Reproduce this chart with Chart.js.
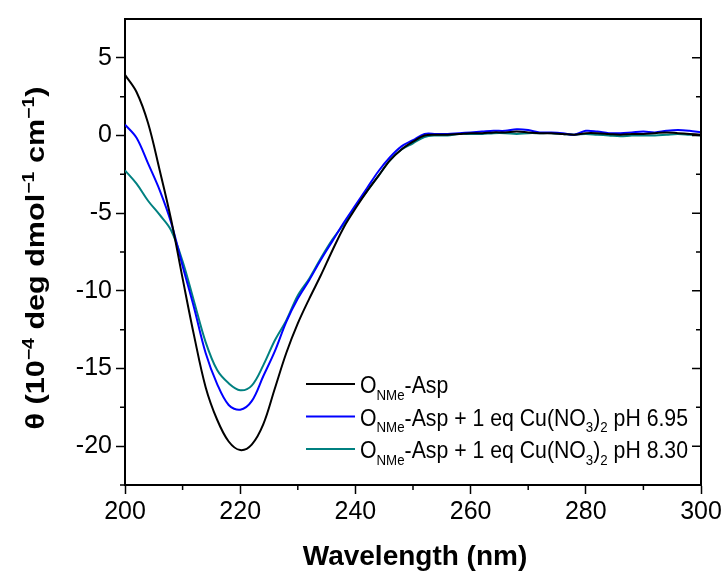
<!DOCTYPE html>
<html>
<head>
<meta charset="utf-8">
<script src="https://cdn.jsdelivr.net/npm/chart.js@4/dist/chart.umd.min.js"></script>
<style>
  html, body { margin: 0; padding: 0; background: #fff; }
  #chart { display: block; }
</style>
</head>
<body>
<canvas id="chart" width="726" height="572"></canvas>
<script>
// wavelength (nm)
const wavelengths = [200, 202, 204, 206, 208, 210, 212, 214, 216, 218,
    220, 222, 224, 226, 228, 230, 232, 234, 236, 238,
    240, 242, 244, 246, 248, 250, 252, 254, 256, 258,
    260, 262, 264, 266, 268, 270, 272, 274, 276, 278,
    280, 282, 284, 286, 288, 290, 292, 294, 296, 298, 300];

// theta (10^-4 deg dmol^-1 cm^-1)
const aspOnly = [3.9, 2.8, 0.8, -2.2, -5.4, -9.2, -12.9, -16.2, -18.3, -19.7,
    -20.25, -19.9, -18.6, -16.3, -14.0, -12.1, -10.5, -9.0, -7.4, -5.9,
    -4.7, -3.6, -2.6, -1.6, -0.9, -0.4, 0.0, 0.05, 0.05, 0.1,
    0.15, 0.15, 0.2, 0.2, 0.25, 0.2, 0.15, 0.15, 0.1, 0.05,
    0.15, 0.15, 0.1, 0.05, 0.1, 0.1, 0.15, 0.2, 0.15, 0.1, 0.05];
const aspCuPh695 = [0.7, -0.15, -1.8, -3.5, -5.6, -8.4, -11.1, -14.0, -16.0, -17.35,
    -17.65, -17.1, -15.5, -13.9, -12.0, -10.5, -9.3, -8.0, -6.8, -5.6,
    -4.5, -3.4, -2.3, -1.4, -0.7, -0.3, 0.1, 0.1, 0.1, 0.15,
    0.2, 0.25, 0.3, 0.3, 0.4, 0.35, 0.2, 0.2, 0.15, 0.05,
    0.3, 0.25, 0.15, 0.15, 0.2, 0.25, 0.2, 0.3, 0.35, 0.3, 0.2];
const aspCuPh830 = [-2.25, -3.1, -4.2, -5.1, -6.1, -8.1, -10.7, -13.3, -15.1, -15.95,
    -16.4, -16.1, -14.8, -13.2, -11.9, -10.3, -9.2, -7.9, -6.7, -5.7,
    -4.6, -3.6, -2.6, -1.6, -0.9, -0.5, -0.1, 0.0, 0.0, 0.1,
    0.1, 0.1, 0.15, 0.15, 0.1, 0.15, 0.15, 0.15, 0.1, 0.05,
    0.1, 0.05, 0.0, -0.05, 0.0, 0.0, 0.0, 0.05, 0.1, 0.05, 0.0];

// labels use _{..} for subscript and ^{..} for superscript
const seriesLabels = [
    'O_{NMe}-Asp',
    'O_{NMe}-Asp + 1 eq Cu(NO_{3})_{2} pH 6.95',
    'O_{NMe}-Asp + 1 eq Cu(NO_{3})_{2} pH 8.30'
];
const seriesColors = ['#000000', '#0000ff', '#008080'];

const xTicks = [200, 220, 240, 260, 280, 300];
const xMinorTicks = [210, 230, 250, 270, 290];
const yTicks = [-20, -15, -10, -5, 0, 5];
const yMinorTicks = [-22.5, -17.5, -12.5, -7.5, -2.5, 2.5];

const xTitle = 'Wavelength (nm)';
const yTitle = 'θ (10^{−4} deg dmol^{−1} cm^{−1})';

const FONT = "'Liberation Sans', Arial, Helvetica, sans-serif";

function parseRich(str) {
    const parts = [];
    const re = /([_^])\{([^}]*)\}|([^_^]+)/g;
    let m;
    while ((m = re.exec(str)) !== null) {
        if (m[3]) parts.push({ text: m[3], mode: 'normal' });
        else parts.push({ text: m[2], mode: m[1] === '_' ? 'sub' : 'sup' });
    }
    return parts;
}

function richFont(size, mode, bold) {
    const s = mode === 'normal' ? size : Math.round(size * 0.62);
    return (bold ? 'bold ' : '') + s + 'px ' + FONT;
}

function measureRich(ctx, str, size, bold) {
    let w = 0;
    parseRich(str).forEach(p => {
        ctx.font = richFont(size, p.mode, bold);
        w += ctx.measureText(p.text).width;
    });
    return w;
}

function drawRich(ctx, str, x, y, size, bold) {
    let cx = x;
    parseRich(str).forEach(p => {
        ctx.font = richFont(size, p.mode, bold);
        let dy = 0;
        if (p.mode === 'sub') dy = size * 0.28;
        if (p.mode === 'sup') dy = -size * 0.42;
        ctx.fillText(p.text, cx, y + dy);
        cx += ctx.measureText(p.text).width;
    });
}

const framePlugin = {
    id: 'frame',
    afterDraw(chart) {
        const ctx = chart.ctx;
        const area = chart.chartArea;
        const xs = chart.scales.x;
        const ys = chart.scales.y;
        ctx.save();
        ctx.strokeStyle = '#000';
        ctx.lineWidth = 2;
        ctx.beginPath();
        ctx.moveTo(area.left, area.top);
        ctx.lineTo(area.right, area.top);
        ctx.lineTo(area.right, area.bottom);
        ctx.stroke();

        // minor ticks, outward on left/bottom
        ctx.lineWidth = 1.5;
        ctx.beginPath();
        xMinorTicks.forEach(v => {
            const px = xs.getPixelForValue(v);
            ctx.moveTo(px, area.bottom);
            ctx.lineTo(px, area.bottom + 5);
        });
        yMinorTicks.forEach(v => {
            const py = ys.getPixelForValue(v);
            ctx.moveTo(area.left, py);
            ctx.lineTo(area.left - 5, py);
        });
        // right axis ticks point inward
        yTicks.forEach(v => {
            const py = ys.getPixelForValue(v);
            ctx.moveTo(area.right, py);
            ctx.lineTo(area.right - 9, py);
        });
        yMinorTicks.forEach(v => {
            const py = ys.getPixelForValue(v);
            ctx.moveTo(area.right, py);
            ctx.lineTo(area.right - 5, py);
        });
        ctx.stroke();

        // axis titles
        ctx.fillStyle = '#000';
        ctx.textBaseline = 'alphabetic';
        ctx.textAlign = 'left';
        ctx.font = 'bold 28px ' + FONT;
        const xw = ctx.measureText(xTitle).width;
        ctx.fillText(xTitle, (area.left + area.right) / 2 - xw / 2 + 2, 565);

        const yw = measureRich(ctx, yTitle, 25, true);
        const ySx = 343 / yw;
        ctx.save();
        ctx.translate(44, 258);
        ctx.rotate(-Math.PI / 2);
        ctx.scale(ySx, 1);
        drawRich(ctx, yTitle, -yw / 2, 0, 25, true);
        ctx.restore();

        // legend
        const legendW = measureRich(ctx, seriesLabels[1], 24, false);
        const lsx = 328 / legendW;
        const rowY = [384, 416.5, 449];
        seriesLabels.forEach((label, i) => {
            ctx.strokeStyle = seriesColors[i];
            ctx.lineWidth = 2;
            ctx.beginPath();
            ctx.moveTo(306, rowY[i]);
            ctx.lineTo(355, rowY[i]);
            ctx.stroke();
            ctx.save();
            ctx.translate(360, rowY[i] + 9);
            ctx.scale(lsx, 1);
            ctx.fillStyle = '#000';
            drawRich(ctx, label, 0, 0, 24, false);
            ctx.restore();
        });
        ctx.restore();
    }
};

const datasets = [aspOnly, aspCuPh695, aspCuPh830].map((vals, i) => ({
    label: seriesLabels[i],
    data: wavelengths.map((w, j) => ({ x: w, y: vals[j] })),
    borderColor: seriesColors[i],
    borderWidth: 2,
    pointRadius: 0,
    tension: 0.35,
    fill: false
}));

const ctx = document.getElementById('chart').getContext('2d');
const chart = new Chart(ctx, {
    type: 'line',
    data: { datasets: datasets },
    options: {
        responsive: false,
        animation: false,
        layout: { padding: { top: 16, right: 25, left: 0, bottom: 0 } },
        plugins: {
            legend: { display: false },
            tooltip: { enabled: false }
        },
        scales: {
            x: {
                type: 'linear',
                min: 200,
                max: 300,
                afterBuildTicks: scale => { scale.ticks = xTicks.map(v => ({ value: v })); },
                afterFit: scale => { scale.height = 87; },
                ticks: {
                    color: '#000',
                    font: { family: FONT, size: 25 },
                    padding: 3,
                    maxRotation: 0
                },
                grid: {
                    drawOnChartArea: false,
                    tickLength: 9,
                    tickWidth: 1.5,
                    tickColor: '#000'
                },
                border: { display: true, color: '#000', width: 2 }
            },
            y: {
                min: -22.5,
                max: 7.5,
                afterBuildTicks: scale => { scale.ticks = yTicks.map(v => ({ value: v })); },
                afterFit: scale => { scale.width = 125; },
                ticks: {
                    color: '#000',
                    font: { family: FONT, size: 25 },
                    padding: 4
                },
                grid: {
                    drawOnChartArea: false,
                    tickLength: 9,
                    tickWidth: 1.5,
                    tickColor: '#000'
                },
                border: { display: true, color: '#000', width: 2 }
            }
        }
    },
    plugins: [framePlugin]
});
</script>
</body>
</html>
